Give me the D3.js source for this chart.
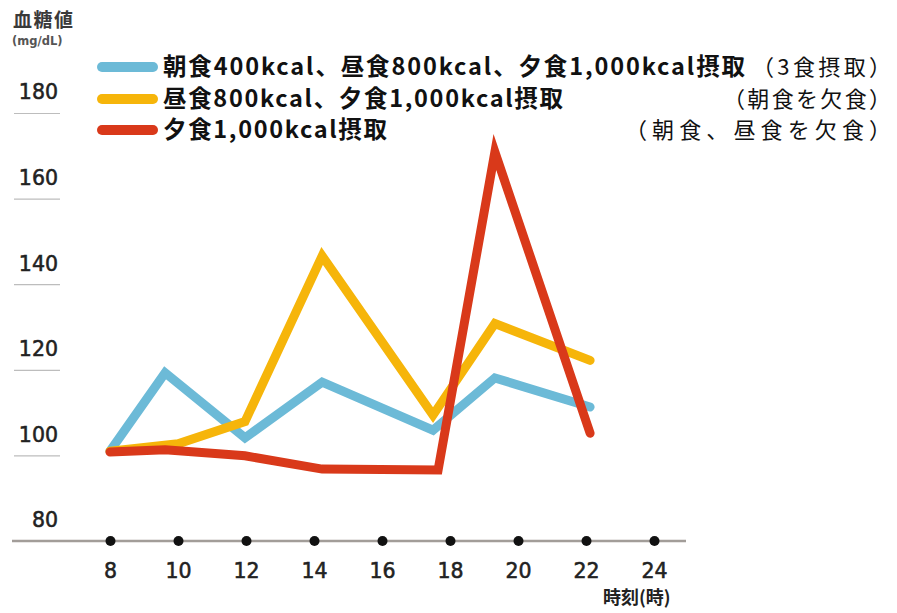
<!DOCTYPE html>
<html lang="ja">
<head>
<meta charset="utf-8">
<script src="https://cdn.jsdelivr.net/npm/d3@7"></script>
<style>
  html, body { margin: 0; padding: 0; background: #fff; }
  svg { display: block; }
</style>
</head>
<body>
<svg id="chart" width="897" height="613"></svg>
<script>
// Blood glucose over the day for three meal patterns
const yTicks = [80, 100, 120, 140, 160, 180];
const xTicks = [8, 10, 12, 14, 16, 18, 20, 22, 24];

const threeMealHours = [8, 9.62, 11.97, 14.24, 17.5, 19.32, 22.12];
const threeMealValues = [101.0, 119.3, 104.1, 117.1, 105.9, 118.1, 111.3];

const noBreakfastHours = [8, 10, 11.97, 14.24, 17.5, 19.32, 22.12];
const noBreakfastValues = [101.0, 102.7, 107.9, 146.6, 109.4, 130.8, 122.2];

const dinnerOnlyHours = [8, 9.62, 11.97, 14.24, 17.65, 19.32, 22.12];
const dinnerOnlyValues = [100.8, 101.3, 99.9, 96.8, 96.6, 170.9, 105.2];

const seriesNames = [
  "朝食400kcal、昼食800kcal、夕食1,000kcal摂取",
  "昼食800kcal、夕食1,000kcal摂取",
  "夕食1,000kcal摂取"
];
const seriesNotes = ["（3食摂取）", "（朝食を欠食）", "（朝食、昼食を欠食）"];
const seriesColors = ["#6cbad7", "#f6b50a", "#d9391a"];

const yTitle = "血糖値";
const yUnit = "(mg/dL)";
const xTitle = "時刻(時)";

const svg = d3.select("#chart");
const jp = "'Noto Sans CJK JP', 'Noto Sans', sans-serif";
const num = "'DejaVu Sans', Verdana, sans-serif";

const x = d3.scaleLinear().domain([8, 24]).range([110, 654]);
const y = d3.scaleLinear().domain([80, 180]).range([541, 113]);

// Y axis title
svg.append("text").attr("x", 13).attr("y", 27)
  .attr("font-family", jp).attr("font-weight", 700).attr("font-size", 19)
  .attr("letter-spacing", 1.5).attr("fill", "#3a3a3a").text(yTitle);
svg.append("text").attr("x", 12).attr("y", 45)
  .attr("font-family", num).attr("font-weight", 700).attr("font-size", 11.5)
  .attr("fill", "#555").text(yUnit);

// Y tick labels with short underline rules
const yAxis = d3.axisLeft(y).tickValues(yTicks).tickSize(0).tickPadding(0);
const yg = svg.append("g").attr("transform", "translate(58,0)").call(yAxis);
yg.select(".domain").remove();
yg.selectAll(".tick text")
  .attr("font-family", num).attr("font-size", 20.5).attr("fill", "#222")
  .attr("stroke", "#222").attr("stroke-width", 0.55)
  .attr("text-anchor", "end").attr("x", 0).attr("dy", "-0.35em")
  .attr("y", -7);
yg.selectAll(".tick").filter(d => d !== 80).append("line")
  .attr("x1", -44).attr("x2", 2).attr("y1", 0).attr("y2", 0)
  .attr("stroke", "#bdbdbd").attr("stroke-width", 1.2);

// X axis baseline with dot markers
svg.append("line")
  .attr("x1", 12).attr("x2", 686).attr("y1", y(80)).attr("y2", y(80))
  .attr("stroke", "#a29d99").attr("stroke-width", 2.5);
const xAxis = d3.axisBottom(x).tickValues(xTicks).tickSize(0).tickPadding(0);
const xg = svg.append("g").attr("transform", `translate(0,${y(80)})`).call(xAxis);
xg.select(".domain").remove();
xg.selectAll(".tick text")
  .attr("font-family", num).attr("font-size", 20.5).attr("fill", "#222")
  .attr("stroke", "#222").attr("stroke-width", 0.55)
  .attr("y", 22).attr("dy", "0.71em");
xg.selectAll(".tick").append("circle").attr("r", 5).attr("fill", "#111");

svg.append("text").attr("x", 603).attr("y", 604)
  .attr("font-family", jp).attr("font-weight", 700).attr("font-size", 18)
  .attr("fill", "#222").text(xTitle);

// Lines
const series = [
  { hours: threeMealHours, values: threeMealValues },
  { hours: noBreakfastHours, values: noBreakfastValues },
  { hours: dinnerOnlyHours, values: dinnerOnlyValues }
];
const line = d3.line().x(d => x(d[0])).y(d => y(d[1]));
series.forEach((s, i) => {
  svg.append("path")
    .attr("d", line(s.hours.map((h, j) => [h, s.values[j]])))
    .attr("fill", "none")
    .attr("stroke", seriesColors[i])
    .attr("stroke-width", 9)
    .attr("stroke-linejoin", "miter")
    .attr("stroke-miterlimit", 6)
    .attr("stroke-linecap", "round");
});

// Legend
const legendY = [67, 99, 130];
const nameWidths = [582, 400, 224];
const noteLeft = [752, 723, 625];
seriesNames.forEach((name, i) => {
  svg.append("line")
    .attr("x1", 102).attr("x2", 153).attr("y1", legendY[i]).attr("y2", legendY[i])
    .attr("stroke", seriesColors[i]).attr("stroke-width", 10)
    .attr("stroke-linecap", "round");
  svg.append("text").attr("x", 163).attr("y", legendY[i]).attr("dy", "0.36em")
    .attr("font-family", jp).attr("font-weight", 700).attr("font-size", 23.5)
    .attr("textLength", nameWidths[i]).attr("lengthAdjust", "spacing")
    .attr("fill", "#111").text(name);
  svg.append("text").attr("x", noteLeft[i]).attr("y", legendY[i]).attr("dy", "0.36em")
    .attr("font-family", jp).attr("font-weight", 400).attr("font-size", 22)
    .attr("textLength", 891 - noteLeft[i]).attr("lengthAdjust", "spacing")
    .attr("fill", "#111").text(seriesNotes[i]);
});
</script>
</body>
</html>
